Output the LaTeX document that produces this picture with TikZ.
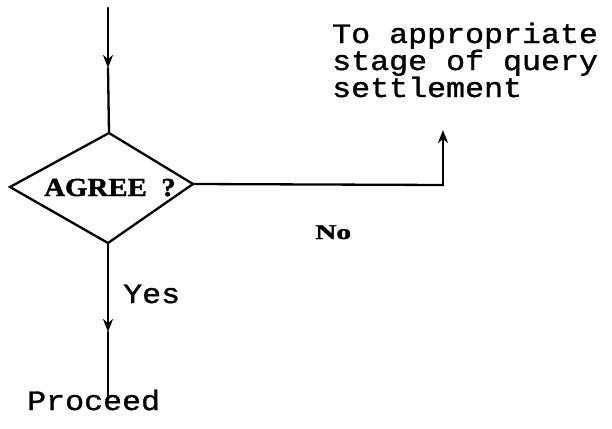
\documentclass[tikz,border=0pt]{standalone}
\usepackage{fontspec}
\usepackage{graphicx}
\setmainfont{Liberation Serif}
\newfontfamily\twfont[FakeStretch=1.13,FakeBold=1.2]{Liberation Mono}
\newfontfamily\hdfont[FakeBold=1.5]{Liberation Serif Bold}
\usetikzlibrary{arrows.meta}
\tikzset{
  x=1pt, y=-1pt,
  flow/.style={line width=2.3pt, line cap=round},
  tip/.style={-{Stealth[length=13pt,width=10pt,inset=4pt]}},
  label/.style={inner sep=0pt, anchor=base west},
  twtext/.style={label, font=\twfont\fontsize{28}{27}\selectfont},
  hdtext/.style={label, font=\hdfont},
}
\begin{document}
\begin{tikzpicture}
\useasboundingbox[fill=white] (0,0) rectangle (612,428);

% decision diamond
\coordinate (dtop) at (109,133);
\coordinate (dleft) at (10,187);
\coordinate (dright) at (193,184);
\coordinate (dbot) at (108,243);
\draw[flow, line join=miter] (dtop) -- (dright) -- (dbot) -- (dleft) -- cycle;
\node[hdtext] (agree) at (44,196) {\fontsize{26}{26}\selectfont\scalebox{1.11}[1]{AGREE\ \ ?}};

% incoming line
\coordinate (in) at (108,8);
\coordinate (intip) at (108,68);
\draw[flow, tip] (in) -- (intip);
\draw[flow] (intip) -- (dtop);

% "No" branch
\coordinate (corner) at (443,185);
\coordinate (notip) at (443,130);
\draw[flow] (dright) -- (corner);
\draw[flow, tip] (corner) -- (notip);
\node[hdtext] (no) at (315,239) {\fontsize{21}{21}\selectfont\scalebox{1.4}[1]{No}};
\node[twtext, align=left] (dest) at (332,97) {To appropriate\\stage of query\\settlement};

% "Yes" branch
\coordinate (yestip) at (108,332);
\coordinate (out) at (108,397);
\draw[flow, tip] (dbot) -- (yestip);
\draw[flow] (yestip) -- (out);
\node[twtext] (yes) at (123,303) {Yes};
\node[twtext] (proceed) at (27,410) {Proceed};
\end{tikzpicture}
\end{document}
